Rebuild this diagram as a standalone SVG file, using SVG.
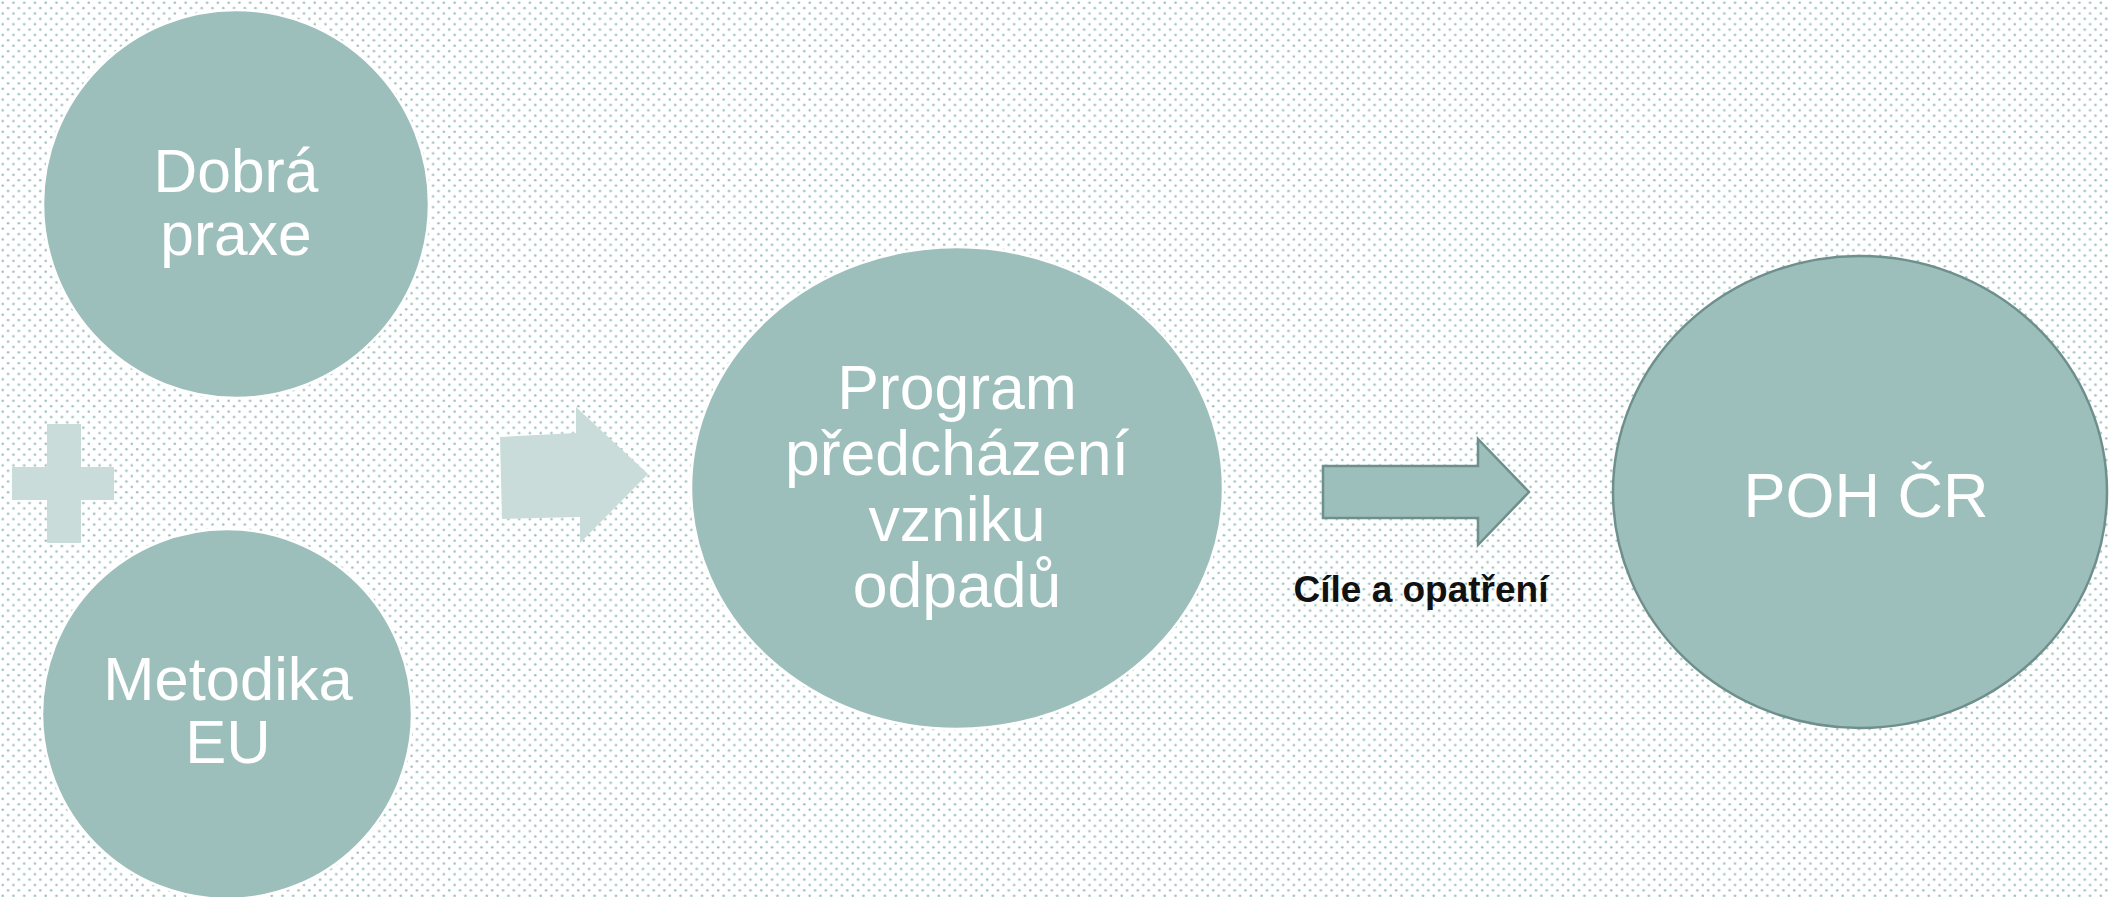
<svg xmlns="http://www.w3.org/2000/svg" width="2109" height="897" viewBox="0 0 2109 897">
  <defs>
    <pattern id="dots" patternUnits="userSpaceOnUse" width="10.76" height="10.76">
      <circle cx="2.7" cy="2.7" r="1.3" fill="#9fc1bf"/>
      <circle cx="8.08" cy="8.08" r="1.3" fill="#9fc1bf"/>
    </pattern>
    <style>
      .node { fill: #9dbfbc; }
      .rim { stroke: #ffffff; stroke-width: 2.5; }
      .dark { stroke: #6f8f8c; stroke-width: 2.5; }
      .light { fill: #c9dcd9; }
      .lbl { font-family: "Liberation Sans", Arial, sans-serif; fill: #ffffff; text-anchor: middle; }
      .cap { font-family: "Liberation Sans", Arial, sans-serif; font-weight: bold; fill: #111111; font-size: 37px; text-anchor: middle; }
    </style>
  </defs>
  <rect x="0" y="0" width="2109" height="897" fill="#ffffff"/>
  <rect x="0" y="0" width="2109" height="897" fill="url(#dots)"/>

  <g id="connectors">
    <g id="plus" class="light">
      <rect x="47" y="424" width="34" height="119"/>
      <rect x="12" y="467" width="102" height="33"/>
    </g>
    <polygon id="arrow1" class="light" points="500,437 576,433 576,407 648,474 580,543 580,517 502,519"/>
    <polygon id="arrow2" class="node dark" points="1323,466 1478,466 1478,439 1529,492 1478,545 1478,518 1323,518"/>
  </g>

  <g id="node-dobra-praxe">
    <ellipse class="node rim" cx="236" cy="204" rx="193" ry="194"/>
    <text class="lbl" font-size="60.5"><tspan x="236" y="192">Dobrá</tspan><tspan x="236" y="255">praxe</tspan></text>
  </g>

  <g id="node-metodika-eu">
    <ellipse class="node rim" cx="227" cy="714" rx="185" ry="185"/>
    <text class="lbl" font-size="61.5"><tspan x="228" y="700">Metodika</tspan><tspan x="228" y="763">EU</tspan></text>
  </g>

  <g id="node-program">
    <ellipse class="node rim" cx="957" cy="488" rx="266" ry="241"/>
    <text class="lbl" font-size="62.5"><tspan x="957" y="409">Program</tspan><tspan x="957" y="475">předcházení</tspan><tspan x="957" y="541">vzniku</tspan><tspan x="957" y="607">odpadů</tspan></text>
  </g>

  <g id="label-cile">
    <text class="cap" x="1421" y="602">Cíle a opatření</text>
  </g>

  <g id="node-poh">
    <ellipse class="node dark" cx="1860" cy="492" rx="247" ry="236"/>
    <text class="lbl" font-size="63" x="1866" y="517">POH ČR</text>
  </g>
</svg>
